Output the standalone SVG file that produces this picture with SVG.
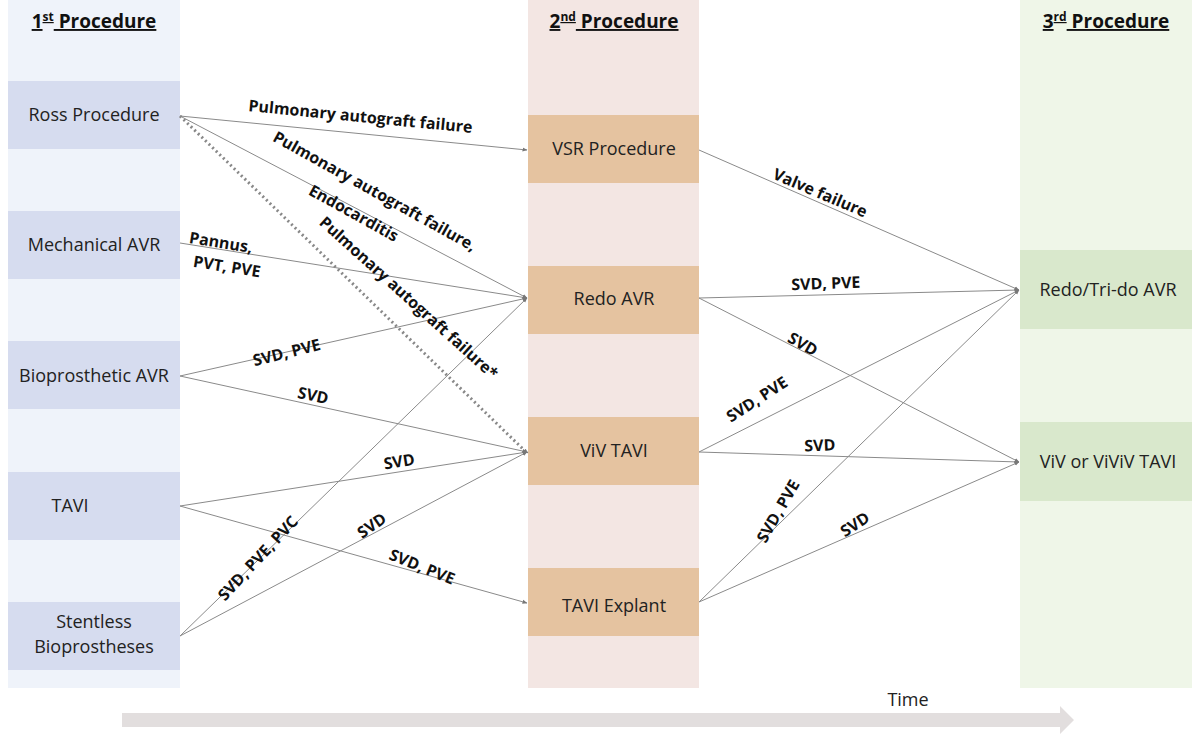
<svg xmlns="http://www.w3.org/2000/svg" width="1200" height="736" viewBox="0 0 1200 736">
<defs>
<marker id="ah" viewBox="0 0 10 10" refX="9" refY="5" markerWidth="5" markerHeight="5" orient="auto"><path d="M0,1 L10,5 L0,9 z" fill="#777"/></marker>
<style>
.t{font-family:"Open Sans","Liberation Sans",sans-serif;font-size:18px;fill:#222;text-anchor:middle;dominant-baseline:middle}
.h{font-family:"Open Sans","Liberation Sans",sans-serif;font-size:19px;font-weight:bold;fill:#111;text-anchor:middle;text-decoration:underline}
.l{font-family:"Open Sans","Liberation Sans",sans-serif;font-size:16px;font-weight:bold;fill:#111;text-anchor:middle}
.c{stroke:#8a8a8a;stroke-width:1;fill:none;marker-end:url(#ah)}
.n1{fill:#d6dcef}.n2{fill:#e5c3a0}.n3{fill:#d9e8cc}
</style>
</defs>
<rect width="1200" height="736" fill="#fff"/>
<rect x="8" y="0" width="172" height="688" fill="#eff3fa"/>
<rect x="528" y="0" width="171" height="688" fill="#f3e6e3"/>
<rect x="1020" y="0" width="172" height="688" fill="#eff6e8"/>
<text class="h" x="94" y="28">1<tspan font-size="12" dy="-7">st</tspan><tspan dy="7"> Procedure</tspan></text>
<text class="h" x="614" y="28">2<tspan font-size="12" dy="-7">nd</tspan><tspan dy="7"> Procedure</tspan></text>
<text class="h" x="1106" y="28">3<tspan font-size="12" dy="-7">rd</tspan><tspan dy="7"> Procedure</tspan></text>
<g id="ross"><rect class="n1" x="8" y="81" width="172" height="68"/><text class="t" x="94" y="116">Ross Procedure</text></g>
<g id="mech"><rect class="n1" x="8" y="211" width="172" height="68"/><text class="t" x="94" y="246">Mechanical AVR</text></g>
<g id="bio"><rect class="n1" x="8" y="341" width="172" height="68"/><text class="t" x="94" y="377">Bioprosthetic AVR</text></g>
<g id="tavi"><rect class="n1" x="8" y="472" width="172" height="68"/><text class="t" x="70" y="507">TAVI</text></g>
<g id="stentless"><rect class="n1" x="8" y="602" width="172" height="68"/><text class="t" x="94" y="623">Stentless</text><text class="t" x="94" y="648">Bioprostheses</text></g>
<g id="vsr"><rect class="n2" x="528" y="115" width="171" height="68"/><text class="t" x="614" y="150">VSR Procedure</text></g>
<g id="redo"><rect class="n2" x="528" y="266" width="171" height="68"/><text class="t" x="614" y="300">Redo AVR</text></g>
<g id="viv"><rect class="n2" x="528" y="417" width="171" height="68"/><text class="t" x="614" y="452">ViV TAVI</text></g>
<g id="explant"><rect class="n2" x="528" y="568" width="171" height="68"/><text class="t" x="614" y="607">TAVI Explant</text></g>
<g id="redo3"><rect class="n3" x="1020" y="250" width="172" height="79"/><text class="t" x="1108" y="291">Redo/Tri-do AVR</text></g>
<g id="viv3"><rect class="n3" x="1020" y="422" width="172" height="79"/><text class="t" x="1108" y="463">ViV or ViViV TAVI</text></g>
<g id="connectors">
<line class="c" x1="180" y1="116" x2="527" y2="150"/>
<line class="c" x1="180" y1="116" x2="527" y2="298"/>
<line x1="180" y1="116" x2="524" y2="450" stroke="#888" stroke-width="3" stroke-dasharray="2,3"/>
<path d="M524,450 l4,3" class="c"/>
<line class="c" x1="180" y1="243" x2="527" y2="298"/>
<line class="c" x1="180" y1="376" x2="527" y2="298"/>
<line class="c" x1="180" y1="376" x2="527" y2="452"/>
<line class="c" x1="180" y1="506" x2="527" y2="452"/>
<line class="c" x1="180" y1="506" x2="527" y2="603"/>
<line class="c" x1="180" y1="636" x2="527" y2="298"/>
<line class="c" x1="180" y1="636" x2="527" y2="452"/>
<line class="c" x1="699" y1="150" x2="1019" y2="290"/>
<line class="c" x1="699" y1="298" x2="1019" y2="290"/>
<line class="c" x1="699" y1="298" x2="1019" y2="462"/>
<line class="c" x1="699" y1="452" x2="1019" y2="290"/>
<line class="c" x1="699" y1="452" x2="1019" y2="462"/>
<line class="c" x1="699" y1="602" x2="1019" y2="290"/>
<line class="c" x1="699" y1="602" x2="1019" y2="462"/>
</g>
<g id="labels">
<text class="l" transform="translate(360,122) rotate(5.6)">Pulmonary autograft failure</text>
<text class="l" transform="translate(372,196) rotate(29)">Pulmonary autograft failure,</text>
<text class="l" transform="translate(351,218) rotate(29)">Endocarditis</text>
<text class="l" transform="translate(405,302) rotate(42)">Pulmonary autograft failure*</text>
<text class="l" transform="translate(220,248) rotate(9)">Pannus,</text>
<text class="l" transform="translate(226,272) rotate(9)">PVT, PVE</text>
<text class="l" transform="translate(288,358) rotate(-14)">SVD, PVE</text>
<text class="l" transform="translate(312,401) rotate(12)">SVD</text>
<text class="l" transform="translate(400,467) rotate(-9)">SVD</text>
<text class="l" transform="translate(262,562) rotate(-47)">SVD, PVE, PVC</text>
<text class="l" transform="translate(375,530) rotate(-35)">SVD</text>
<text class="l" transform="translate(420,572) rotate(22)">SVD, PVE</text>
<text class="l" transform="translate(818,198) rotate(23)">Valve failure</text>
<text class="l" transform="translate(826,289) rotate(-2)">SVD, PVE</text>
<text class="l" transform="translate(800,349) rotate(30)">SVD</text>
<text class="l" transform="translate(760,404) rotate(-33)">SVD, PVE</text>
<text class="l" transform="translate(820,451) rotate(-2)">SVD</text>
<text class="l" transform="translate(783,514) rotate(-60)">SVD, PVE</text>
<text class="l" transform="translate(858,529) rotate(-33)">SVD</text>
</g>
<g id="time">
<path d="M122,713 L1060,713 L1060,706 L1074,720 L1060,734 L1060,727 L122,727 z" fill="#e2dede"/>
<text class="t" x="908" y="701">Time</text>
</g>
</svg>
